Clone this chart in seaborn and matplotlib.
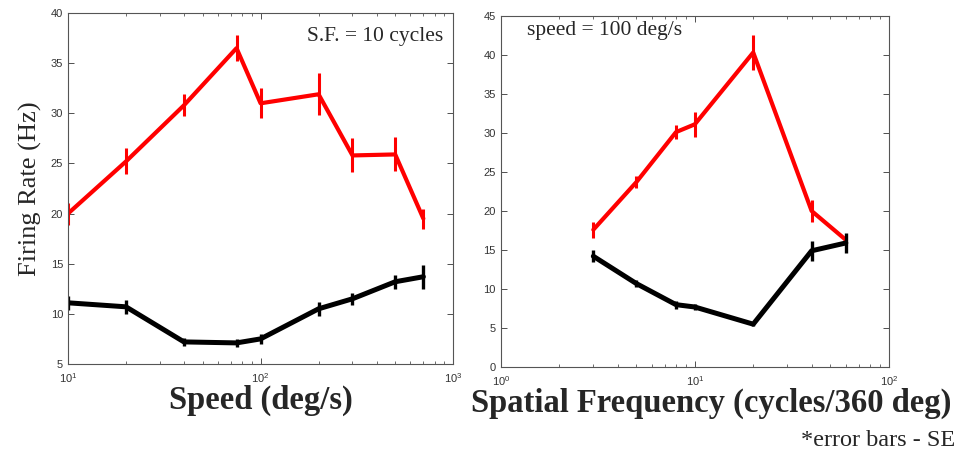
import numpy as np
import pandas as pd
import matplotlib
matplotlib.use("Agg")
import matplotlib.pyplot as plt
import seaborn as sns

# speed tuning (S.F. = 10 cycles)
speed = [10, 20, 40, 75, 100, 200, 300, 500, 700]
speed_red = [20.0, 25.2, 30.8, 36.5, 31.0, 31.9, 25.8, 25.9, 19.5]
speed_red_err = [1.1, 1.3, 1.1, 1.3, 1.5, 2.1, 1.7, 1.7, 1.0]
speed_black = [11.1, 10.7, 7.2, 7.1, 7.5, 10.5, 11.5, 13.2, 13.7]
speed_black_err = [0.7, 0.7, 0.4, 0.4, 0.5, 0.7, 0.6, 0.7, 1.2]

# spatial frequency tuning (speed = 100 deg/s)
sf = [3, 5, 8, 10, 20, 40, 60]
sf_red = [17.6, 23.7, 30.1, 31.1, 40.3, 20.0, 16.3]
sf_red_err = [1.0, 0.8, 0.9, 1.6, 2.2, 1.4, 0.6]
sf_black = [14.2, 10.7, 8.0, 7.7, 5.5, 14.9, 15.9]
sf_black_err = [0.8, 0.5, 0.5, 0.4, 0.2, 1.3, 1.3]

sns.set_theme(style="ticks")
plt.rcParams.update({
    "xtick.direction": "in", "ytick.direction": "in",
    "xtick.top": True, "ytick.right": True,
    "xtick.labelsize": 8, "ytick.labelsize": 8,
    "xtick.color": "#333333", "ytick.color": "#333333",
    "axes.edgecolor": "#555555", "axes.linewidth": 0.8,
    "font.family": ["Liberation Sans", "DejaVu Sans"],
})

fig = plt.figure(figsize=(9.63, 4.51), dpi=100)
ax1 = fig.add_axes([0.0706, 0.193, 0.400, 0.778])
ax2 = fig.add_axes([0.520, 0.186, 0.403, 0.779])


def draw(ax, x, red, red_err, black, black_err):
    df = pd.DataFrame({"x": x * 2, "rate": red + black,
                       "cond": ["red"] * len(x) + ["black"] * len(x)})
    sns.lineplot(data=df, x="x", y="rate", hue="cond", size="cond",
                 sizes={"red": 3.0, "black": 3.6},
                 palette={"red": "#ff0000", "black": "#000000"},
                 legend=False, ax=ax)
    ax.errorbar(x, red, yerr=red_err, fmt="none", ecolor="#ff0000", elinewidth=2.2)
    ax.errorbar(x, black, yerr=black_err, fmt="none", ecolor="#000000", elinewidth=2.4)
    ax.set_xscale("log")
    ax.tick_params(which="major", length=4, width=0.6)
    ax.tick_params(which="minor", length=2, width=0.5)
    ax.tick_params(axis="x", which="major", pad=5)
    ax.set_xlabel("")
    ax.set_ylabel("")


draw(ax1, speed, speed_red, speed_red_err, speed_black, speed_black_err)
ax1.set_xlim(10, 1000)
ax1.set_ylim(5, 40)
ax1.set_yticks(range(5, 41, 5))
ax1.text(0.975, 0.96, "S.F. = 10 cycles", transform=ax1.transAxes,
         ha="right", va="top", family="Liberation Serif", fontsize=15.5)
ax1.set_ylabel("Firing Rate (Hz)", family="Liberation Serif", fontsize=19, labelpad=6)
ax1.set_xlabel("Speed (deg/s)", family="Liberation Serif", fontsize=23.5,
               fontweight="bold", labelpad=0)

draw(ax2, sf, sf_red, sf_red_err, sf_black, sf_black_err)
ax2.set_xlim(1, 100)
ax2.set_ylim(0, 45)
ax2.set_yticks(range(0, 46, 5))
ax2.text(0.068, 0.985, "speed = 100 deg/s", transform=ax2.transAxes,
         ha="left", va="top", family="Liberation Serif", fontsize=15.5)
ax2.set_xlabel("Spatial Frequency (cycles/360 deg)", family="Liberation Serif",
               fontsize=23.5, fontweight="bold", labelpad=0)
ax2.xaxis.label.set_x(0.543)

fig.text(0.832, 0.0, "*error bars - SE", family="Liberation Serif", fontsize=17.5,
         ha="left", va="bottom")

fig.savefig("out.png", dpi=100)
